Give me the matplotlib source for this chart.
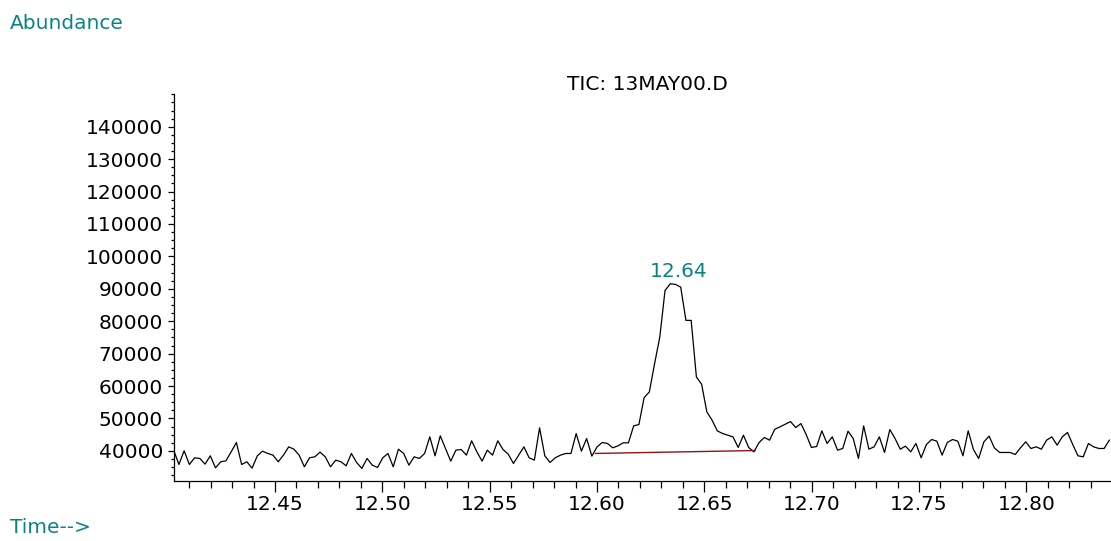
import numpy as np
import matplotlib
matplotlib.use("Agg")
import matplotlib.pyplot as plt
from matplotlib.ticker import MultipleLocator, FixedLocator

# ---------------- data ----------------
scan_start = 12.4028      # min, first scan
scan_interval = 0.002435  # min between scans

abundance = [
    40216, 35801, 40010, 35801, 37855, 37650, 35904, 38470, 34775, 36620,
    36930, 39700, 42580, 35800, 36620, 34670, 38470, 39910, 39190, 38680,
    36620, 38680, 41240, 40520, 38680, 35080, 37860, 38160, 39600, 38160,
    35080, 37140, 36620, 35390, 39190, 36400, 34570, 37650, 35590, 34880,
    37860, 39190, 35080, 40520, 39190,
    35590, 38160, 37650, 39190, 44320, 38470, 44630, 40730, 36830, 40220,
    40420, 38680, 43100, 39700, 36830, 40220, 38680, 43100, 40420, 38980,
    36110, 38680, 41240, 37860, 37140, 47100, 38470, 36420, 37860, 38680,
    39190, 39190, 45350, 39910, 43810, 38370, 41240, 42580, 42270, 40930,
    41550, 42480, 42480, 47710, 48120,
    56440, 58170, 66910, 75110, 89490, 91550, 91340, 90510, 80250, 80250,
    62790, 60540, 52010, 49450, 46160, 45360, 44830, 44310, 41050, 44830,
    41050, 39690,
    42580, 44120, 43300, 46680, 47400, 48220, 49040, 47190, 48420, 45040,
    41040, 41340, 46170, 42270, 44320, 40220, 40730, 46070, 43810, 37650,
    47710, 40520, 41240,
    44320, 39500, 46580, 43810, 40520, 41450, 39700, 42270, 37860, 41960,
    43500, 42990, 38680, 42580, 43500, 42990, 38470, 46170, 40420, 37650,
    42780, 44530, 40930, 39500, 39500, 39500, 38880, 40930, 42780, 40730,
    41240, 40520, 43300, 44320, 41760, 44320, 45660, 41960, 38470, 38160,
    42270, 41240, 40730, 40730, 43300,
]

peak_label = "12.64"
peak_label_time = 12.6382
peak_label_level = 93500

baseline_times = [12.5993, 12.6737]
baseline_levels = [39200, 40100]

y_ticks = [40000, 50000, 60000, 70000, 80000, 90000, 100000,
           110000, 120000, 130000, 140000]
x_ticks = [12.45, 12.50, 12.55, 12.60, 12.65, 12.70, 12.75, 12.80]
x_tick_labels = ["12.45", "12.50", "12.55", "12.60", "12.65", "12.70",
                 "12.75", "12.80"]

title = "TIC: 13MAY00.D"
y_title = "Abundance"
x_title = "Time-->"

# ---------------- plot ----------------
teal = "#0b8383"
plt.rcParams["font.family"] = ["DejaVu Sans"]
fs = 14.5

times = scan_start + scan_interval * np.arange(len(abundance))

fig = plt.figure(figsize=(11.11, 5.41), dpi=100)
ax = fig.add_axes([174 / 1111, 60 / 541, 936 / 1111, (481 - 94.3) / 541])

ax.plot(times, abundance, color="black", lw=0.9)
ax.plot(baseline_times, baseline_levels, color="#8e1515", lw=1.0)

ax.set_xlim(12.40295, 12.83897)
ax.set_ylim(30700, 150000)

for s in ["top", "right"]:
    ax.spines[s].set_visible(False)
for s in ["left", "bottom"]:
    ax.spines[s].set_linewidth(0.9)

ax.xaxis.set_major_locator(FixedLocator(x_ticks))
ax.set_xticklabels(x_tick_labels)
ax.xaxis.set_minor_locator(MultipleLocator(0.01))
ax.yaxis.set_major_locator(FixedLocator(y_ticks))
ax.set_yticklabels([str(v) for v in y_ticks])
ax.yaxis.set_minor_locator(MultipleLocator(2500))

ax.tick_params(axis="x", which="major", length=8, width=0.9, pad=2,
               labelsize=fs, direction="out")
ax.tick_params(axis="x", which="minor", length=5, width=0.9, direction="out")
ax.tick_params(axis="y", which="major", length=4, width=0.9, pad=4,
               labelsize=fs, direction="out")
ax.tick_params(axis="y", which="minor", length=2.5, width=0.9,
               direction="out")

ax.text(peak_label_time, peak_label_level, peak_label, color=teal,
        fontsize=fs, ha="center", va="baseline")

fig.text(647 / 1111, 1 - 90 / 541, title, ha="center", va="baseline",
         fontsize=fs, color="black")
fig.text(10 / 1111, 1 - 29 / 541, y_title, ha="left", va="baseline",
         fontsize=fs, color=teal)
fig.text(10 / 1111, 1 - 533 / 541, x_title, ha="left", va="baseline",
         fontsize=fs, color=teal)

fig.savefig("out.png", dpi=100)
